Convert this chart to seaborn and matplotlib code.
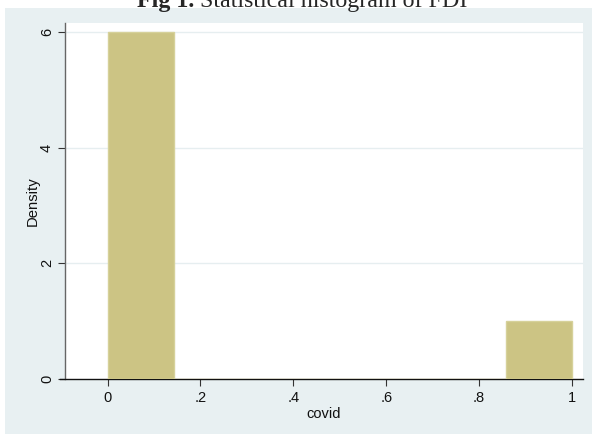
import matplotlib
matplotlib.use("Agg")
import matplotlib.pyplot as plt
import seaborn as sns
import numpy as np

# data: covid dummy (share of 0 vs 1)
covid = [0, 0, 0, 0, 0, 0, 1]
xticks = [0, 0.2, 0.4, 0.6, 0.8, 1.0]
xticklabels = ["0", ".2", ".4", ".6", ".8", "1"]
yticks = [0, 2, 4, 6]
yticklabels = ["0", "2", "4", "6"]

sns.set_style("white")
plt.rcParams['font.family'] = ['Liberation Sans', 'DejaVu Sans']

W, H = 592, 434
fig = plt.figure(figsize=(W / 100, H / 100), dpi=100)
fig.patch.set_facecolor("white")

bg = "#e8f0f2"
# outer graph region
fig.patches.append(plt.Rectangle((5 / W, 0), 1 - 5 / W, 1 - 8 / H, transform=fig.transFigure,
                                 facecolor=bg, edgecolor="none", zorder=-10))

ax = fig.add_axes([65 / W, (H - 379) / H, (583 - 65) / W, (379 - 23) / H])
ax.set_facecolor("white")

sns.histplot(x=covid, bins=7, binrange=(0, 1), stat="density", color="#ccc484",
             edgecolor="#d6d19a", linewidth=1, alpha=1, ax=ax, zorder=3)

ax.set_xlim(-0.0915, 1.0237)
ax.set_ylim(0, 6.156)
ax.set_xticks(xticks)
ax.set_xticklabels(xticklabels, fontsize=10.5)
ax.set_yticks(yticks)
ax.set_yticklabels(yticklabels, fontsize=10.5, rotation=90, va="center")
for y in yticks[1:]:
    ax.axhline(y, color="#e6eef0", lw=1, zorder=1)

ax.tick_params(axis="both", direction="out", length=5, width=0.8, color="#333333",
               labelcolor="#111111")
ax.tick_params(axis="x", bottom=True, pad=4)
ax.tick_params(axis="y", left=True, pad=3)

for s in ["top", "right"]:
    ax.spines[s].set_visible(False)
ax.spines["left"].set_color("#666666")
ax.spines["left"].set_linewidth(1)
ax.spines["bottom"].set_color("#111111")
ax.spines["bottom"].set_linewidth(1)
ax.spines["bottom"].set_bounds(-0.102, 1.0237)

ax.set_xlabel("covid", fontsize=10.5, labelpad=1, color="#111111")
ax.set_ylabel("Density", fontsize=10.7, labelpad=0, color="#111111")

# title (bold "Fig 1." + regular text), baseline near top edge
fig.canvas.draw()
r = fig.canvas.get_renderer()
ybase = 1 - 7 / H
t1 = fig.text(0, ybase, "Fig 1. ", fontsize=17.3, fontweight="bold", family="Liberation Serif",
              va="baseline", ha="left")
t2 = fig.text(0, ybase, "Statistical histogram of FDI", fontsize=17.3, family="Liberation Serif",
              va="baseline", ha="left")
w1 = t1.get_window_extent(r).width
w2 = t2.get_window_extent(r).width
x0 = 302 - (w1 + w2) / 2
t1.set_x(x0 / W)
t2.set_x((x0 + w1) / W)

fig.savefig("out.png", dpi=100)
